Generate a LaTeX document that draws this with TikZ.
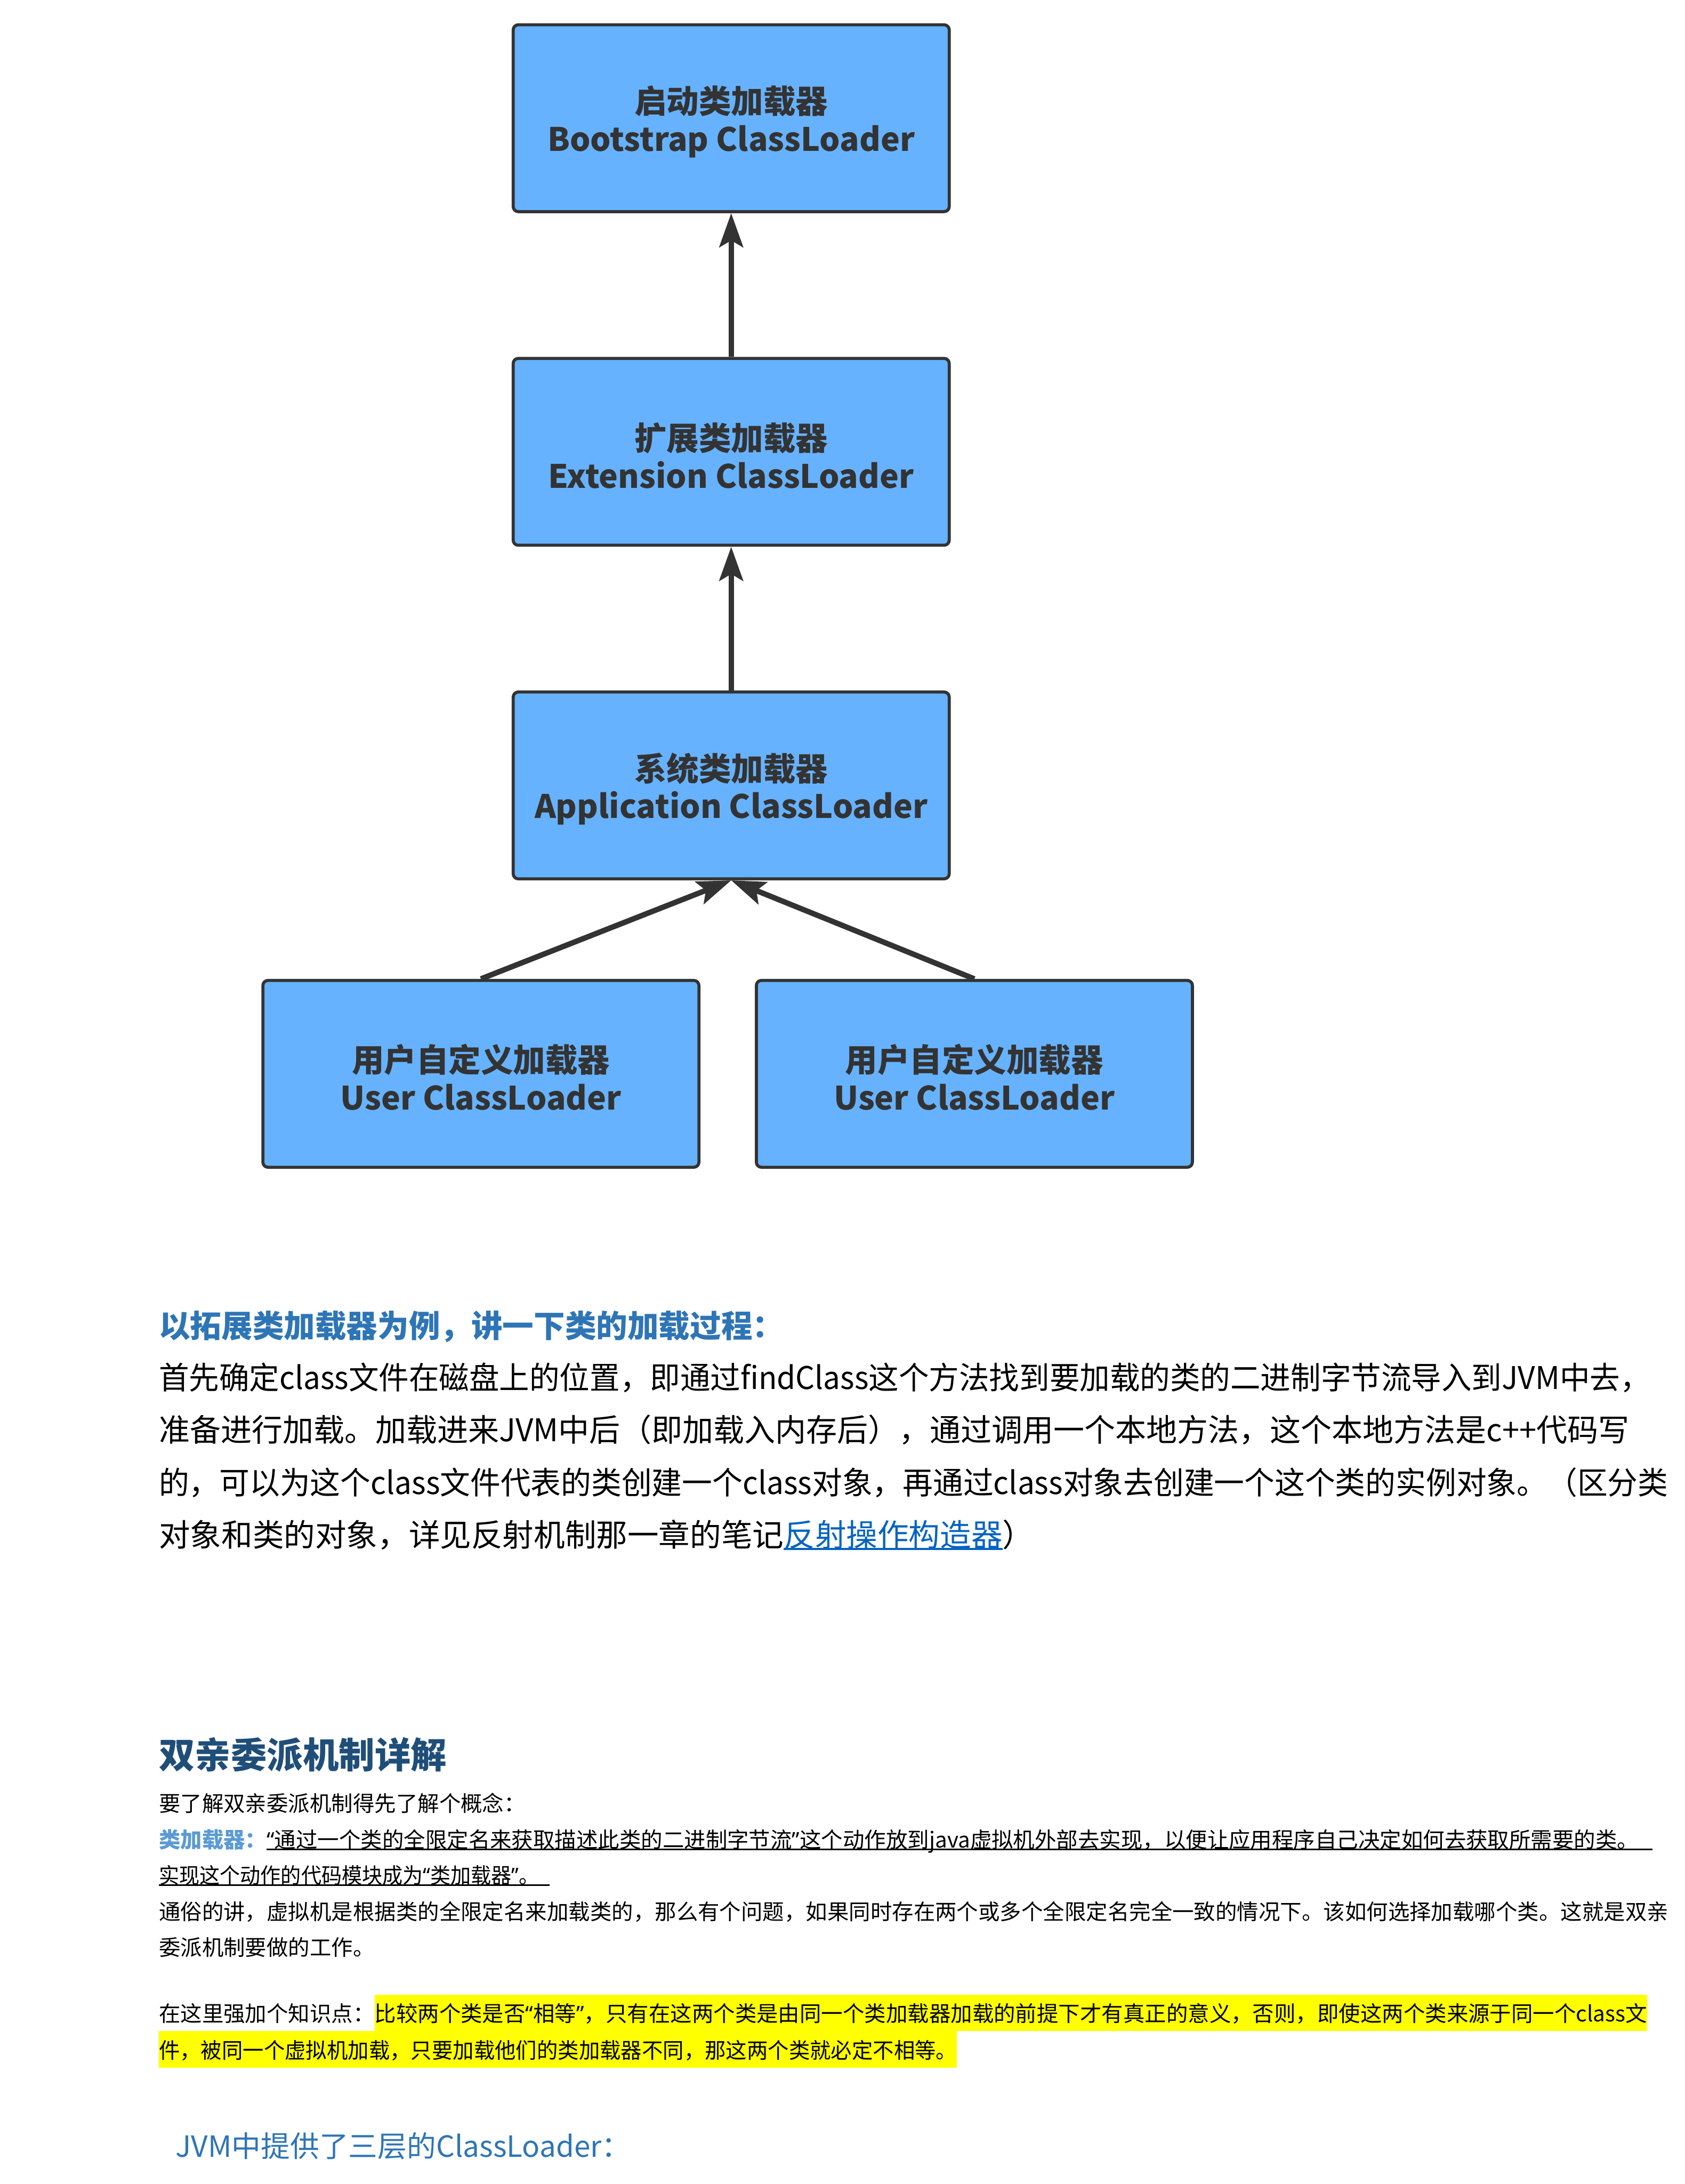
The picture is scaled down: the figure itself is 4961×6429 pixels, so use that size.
\documentclass[tikz,border=0pt]{standalone}
\usepackage{graphicx}
\usepackage{fontspec}
\setmainfont{Noto Sans CJK SC}
\newfontfamily\qfont{Noto Sans}
\newcommand\oq{{\qfont “}}
\newcommand\cq{{\qfont ”}}
\usetikzlibrary{arrows.meta}
\definecolor{boxblue}{RGB}{102,178,255}
\definecolor{dark}{RGB}{51,51,51}
\definecolor{hblue}{RGB}{46,117,182}
\definecolor{hdark}{RGB}{31,78,121}
\definecolor{lblue}{RGB}{91,155,213}
\definecolor{linkblue}{RGB}{5,99,193}
\definecolor{hlyellow}{RGB}{255,255,0}
\tikzset{
  loader/.style={draw=dark, line width=0.9pt, fill=boxblue, rounded corners=1.5pt,
    minimum width=128.4pt, minimum height=55pt, inner sep=0pt, align=center,
    text=dark, font=\bfseries\fontsize{9.5}{11.1}\selectfont},
  up/.style={draw=dark, line width=1.6pt, -{Stealth[length=10pt,width=7pt,inset=2pt]}},
  txt/.style={anchor=base west, inner sep=0pt, outer sep=0pt},
  body/.style={txt, font=\fontsize{9.2}{9.2}\selectfont},
  small/.style={txt, font=\fontsize{6.35}{6.35}\selectfont},
  hl/.style={fill=hlyellow, text height=8pt, text depth=2.7pt},
  ul/.style={draw=black, line width=0.45pt}
}
\newcommand\tstrut{\rule{0pt}{10.3pt}}
\begin{document}
\begin{tikzpicture}[x=0.1pt,y=-0.1pt]
\useasboundingbox (0,0) rectangle (4961,6429);
% loader boxes
\node[loader] (boot) at (2153,348) {\tstrut 启动类加载器\\Bootstrap ClassLoader};
\node[loader] (ext) at (2153,1330) {\tstrut 扩展类加载器\\Extension ClassLoader};
\node[loader] (app) at (2153,2312) {\tstrut 系统类加载器\\Application ClassLoader};
\node[loader] (userA) at (1416,3161) {\tstrut 用户自定义加载器\\User ClassLoader};
\node[loader] (userB) at (2869,3161) {\tstrut 用户自定义加载器\\User ClassLoader};
% connectors
\draw[up] (ext.north) -- (boot.south);
\draw[up] (app.north) -- (ext.south);
\draw[up] (userA.north) -- (app.south);
\draw[up] (userB.north) -- (app.south);
% first text block
\node[txt, font=\bfseries\fontsize{9.2}{9.2}\selectfont, text=hblue] (h1) at (468,3937) {以拓展类加载器为例，讲一下类的加载过程：};
\node[body] (b1) at (468,4090) {\resizebox{439.1pt}{\height}{首先确定class文件在磁盘上的位置，即通过findClass这个方法找到要加载的类的二进制字节流导入到JVM中去，}};
\node[body] (b2) at (468,4244) {\resizebox{433pt}{\height}{准备进行加载。加载进来JVM中后（即加载入内存后），通过调用一个本地方法，这个本地方法是c++代码写}};
\node[body] (b3) at (468,4398) {\resizebox{444.4pt}{\height}{的，可以为这个class文件代表的类创建一个class对象，再通过class对象去创建一个这个类的实例对象。（区分类}};
\node[body] (b4) at (468,4552) {对象和类的对象，详见反射机制那一章的笔记};
\node[body, text=linkblue] (lnk) at (b4.base east) {反射操作构造器};
\node[body] (b4e) at (lnk.base east) {）};
\draw[draw=linkblue, line width=0.6pt] ([yshift=-0.8pt]lnk.base west) -- ([yshift=-0.8pt]lnk.base east);
% second block
\node[txt, font=\bfseries\fontsize{10.6}{10.6}\selectfont, text=hdark] (h2) at (468,5206) {双亲委派机制详解};
\node[small] (s1) at (468,5333) {要了解双亲委派机制得先了解个概念：};
\node[small, font=\bfseries\fontsize{6.35}{6.35}\selectfont, text=lblue] (s2a) at (468,5439) {类加载器：};
\node[small] (s2b) at (s2a.base east) {\oq 通过一个类的全限定名来获取描述此类的二进制字节流\cq 这个动作放到java虚拟机外部去实现，以便让应用程序自己决定如何去获取所需要的类。};
\draw[ul] ([yshift=-0.5pt]s2b.base west) -- ([xshift=4pt,yshift=-0.5pt]s2b.base east);
\node[small] (s3) at (468,5544) {\resizebox{112pt}{\height}{实现这个动作的代码模块成为\oq 类加载器\cq 。}};
\draw[ul] ([yshift=-0.5pt]s3.base west) -- ([xshift=3pt,yshift=-0.5pt]s3.base east);
\node[small] (s4) at (468,5651) {通俗的讲，虚拟机是根据类的全限定名来加载类的，那么有个问题，如果同时存在两个或多个全限定名完全一致的情况下。该如何选择加载哪个类。这就是双亲};
\node[small] (s5) at (468,5757) {委派机制要做的工作。};
\node[small] (s6a) at (468,5951) {在这里强加个知识点：};
\node[small, hl] (s6b) at (s6a.base east) {比较两个类是否\oq 相等\cq ，只有在这两个类是由同一个类加载器加载的前提下才有真正的意义，否则，即使这两个类来源于同一个class文};
\node[small, hl] (s7) at (468,6059) {\resizebox{235pt}{\height}{件，被同一个虚拟机加载，只要加载他们的类加载器不同，那这两个类就必定不相等。}};
\node[txt, font=\fontsize{8.6}{8.6}\selectfont, text=hblue] (jvm) at (517,6350) {JVM中提供了三层的ClassLoader：};
\end{tikzpicture}
\end{document}
